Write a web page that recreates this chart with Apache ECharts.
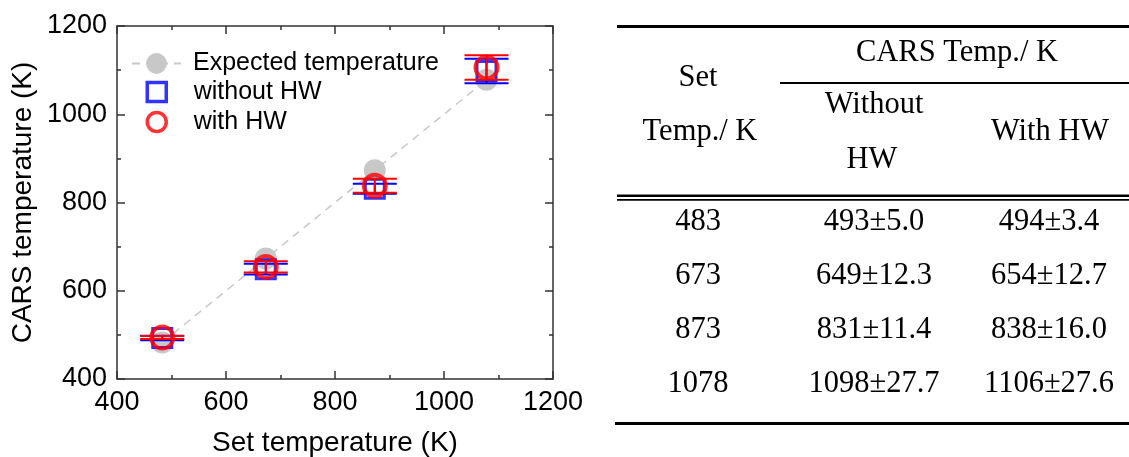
<!DOCTYPE html>
<html>
<head>
<meta charset="utf-8">
<script src="https://cdn.jsdelivr.net/npm/echarts@6/dist/echarts.min.js"></script>
<style>
html,body{margin:0;padding:0;background:#fff;}
#chart{width:1129px;height:457px;}
</style>
</head>
<body>
<div id="chart"></div>
<script>
// ---- data ----
const setTemps = [483, 673, 873, 1078];
const expectedTemps = [483, 673, 873, 1078];
const withoutHW = [493, 649, 831, 1098];
const withoutHWErr = [5.0, 12.3, 11.4, 27.7];
const withHW = [494, 654, 838, 1106];
const withHWErr = [3.4, 12.7, 16.0, 27.6];
const xTicks = [400, 600, 800, 1000, 1200];
const yTicks = [400, 600, 800, 1000, 1200];
const seriesNames = ['Expected temperature', 'without HW', 'with HW'];
const tableHeader = {set1: 'Set', set2: 'Temp./ K', group: 'CARS Temp./ K', col2a: 'Without', col2b: 'HW', col3: 'With HW'};

const SANS = "'Liberation Sans', Arial, sans-serif";
const SERIF = "'Liberation Serif', 'Times New Roman', serif";
const BLUE = '#0000ff', RED = '#ff0000', GRAY = '#c8c8c8', AXIS = '#333333';

const chart = echarts.init(document.getElementById('chart'), null, {renderer: 'canvas'});

function errRender(color) {
  return function (params, api) {
    const x = api.value(0), v = api.value(1), e = api.value(2);
    const top = api.coord([x, v + e]);
    const bot = api.coord([x, v - e]);
    const half = 22;
    const st = {stroke: color, lineWidth: 2};
    return {
      type: 'group',
      children: [
        {type: 'line', shape: {x1: top[0], y1: top[1], x2: bot[0], y2: bot[1]}, style: st},
        {type: 'line', shape: {x1: top[0] - half, y1: top[1], x2: top[0] + half, y2: top[1]}, style: st},
        {type: 'line', shape: {x1: bot[0] - half, y1: bot[1], x2: bot[0] + half, y2: bot[1]}, style: st}
      ]
    };
  };
}

const axisCommon = {
  type: 'value', min: xTicks[0], max: xTicks[xTicks.length - 1], interval: xTicks[1] - xTicks[0],
  axisLine: {show: true, onZero: false, lineStyle: {color: AXIS, width: 1.5}},
  axisTick: {show: true, inside: true, length: 8, lineStyle: {color: AXIS, width: 1.5}},
  minorTick: {show: true, splitNumber: 2, length: 4, lineStyle: {color: AXIS, width: 1.5}},
  splitLine: {show: false}
};
const yCommon = Object.assign({}, axisCommon, {min: yTicks[0], max: yTicks[yTicks.length - 1], interval: yTicks[1] - yTicks[0]});
const labelStyle = {show: true, margin: 10, fontFamily: SANS, fontSize: 27, color: '#000', formatter: v => String(v)};

// table layout
const colX = [698, 874, 1049];
const rowY = [222, 276, 330, 384];
const tableText = [];
function T(text, x, y) {
  tableText.push({
    type: 'text', x: x, y: y,
    style: {text: text, font: '30.5px ' + SERIF, fill: '#000', textAlign: 'center', textVerticalAlign: 'middle', align: 'center', verticalAlign: 'middle'}
  });
}
T(tableHeader.group, 957, 53);
T(tableHeader.set1, 698, 78);
T(tableHeader.set2, 700, 132);
T(tableHeader.col2a, 874, 105);
T(tableHeader.col2b, 872, 160);
T(tableHeader.col3, 1050, 132);
for (let i = 0; i < setTemps.length; i++) {
  T(String(setTemps[i]), colX[0], rowY[i]);
  T(withoutHW[i] + '±' + withoutHWErr[i].toFixed(1), colX[1], rowY[i]);
  T(withHW[i] + '±' + withHWErr[i].toFixed(1), colX[2], rowY[i]);
}
function R(x, y, w, h) {
  tableText.push({type: 'rect', shape: {x: x, y: y, width: w, height: h}, style: {fill: '#000'}});
}
R(617, 25, 512, 3);
R(780, 82, 349, 2);
R(617, 194.5, 512, 2.5);
R(617, 199, 512, 1.7);
R(615, 422, 514, 3);

const option = {
  backgroundColor: '#fff',
  animation: false,
  grid: {left: 117, right: 576, top: 26, bottom: 78, containLabel: false, outerBoundsMode: 'none'},
  legend: [
    {
      data: [seriesNames[0]],
      orient: 'vertical', left: 126, top: 46, itemWidth: 49, itemHeight: 26, itemGap: 4,
      textStyle: {fontFamily: SANS, fontSize: 25, color: '#000', padding: [0, 0, 0, 7]},
      selectedMode: false
    },
    {
      data: [seriesNames[1], seriesNames[2]],
      orient: 'vertical', left: 140.5, top: 74.5, itemWidth: 19, itemHeight: 19, itemGap: 5,
      itemStyle: {borderWidth: 3.5},
      textStyle: {fontFamily: SANS, fontSize: 25, color: '#000', padding: [0, 0, 0, 22.5]},
      selectedMode: false
    }
  ],
  xAxis: [
    Object.assign({}, axisCommon, {
      position: 'bottom',
      name: 'Set temperature (K)', nameLocation: 'middle', nameGap: 50,
      nameTextStyle: {fontFamily: SANS, fontSize: 28, color: '#000'},
      axisLabel: labelStyle
    }),
    Object.assign({}, axisCommon, {position: 'top', axisLabel: {show: false}})
  ],
  yAxis: [
    Object.assign({}, yCommon, {
      position: 'left',
      name: 'CARS temperature (K)', nameLocation: 'middle', nameGap: 80,
      nameTextStyle: {fontFamily: SANS, fontSize: 28, color: '#000'},
      axisLabel: labelStyle
    }),
    Object.assign({}, yCommon, {position: 'right', axisLabel: {show: false}})
  ],
  series: [
    {
      name: seriesNames[0], type: 'line', z: 1,
      data: setTemps.map((x, i) => [x, expectedTemps[i]]),
      symbol: 'circle', symbolSize: 22,
      itemStyle: {color: GRAY},
      lineStyle: {color: GRAY, width: 1.5, type: [8, 6]}
    },
    {
      name: seriesNames[1], type: 'scatter', z: 2,
      data: setTemps.map((x, i) => [x, withoutHW[i]]),
      symbol: 'rect', symbolSize: 19,
      itemStyle: {color: 'rgba(255,255,255,0)', borderColor: BLUE, borderWidth: 3}
    },
    {
      name: 'without HW err', type: 'custom', z: 3,
      data: setTemps.map((x, i) => [x, withoutHW[i], withoutHWErr[i]]),
      renderItem: errRender(BLUE)
    },
    {
      name: seriesNames[2], type: 'scatter', z: 4,
      data: setTemps.map((x, i) => [x, withHW[i]]),
      symbol: 'circle', symbolSize: 22,
      itemStyle: {color: 'rgba(255,255,255,0)', borderColor: RED, borderWidth: 4}
    },
    {
      name: 'with HW err', type: 'custom', z: 5,
      data: setTemps.map((x, i) => [x, withHW[i], withHWErr[i]]),
      renderItem: errRender(RED)
    }
  ],
  graphic: tableText
};
chart.setOption(option);
</script>
</body>
</html>
